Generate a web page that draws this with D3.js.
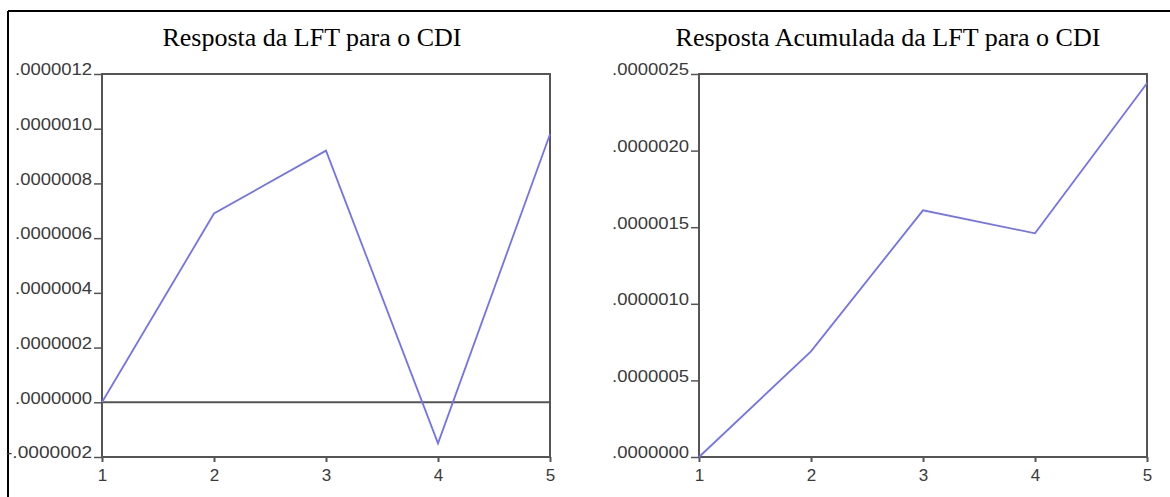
<!DOCTYPE html>
<html>
<head>
<meta charset="utf-8">
<script src="https://cdn.jsdelivr.net/npm/d3@7"></script>
<style>
  body { margin: 0; background: #fff; }
  svg { display: block; }
</style>
</head>
<body>
<svg id="chart" width="1170" height="497"></svg>
<script>
// periods
var periods = [1, 2, 3, 4, 5];
// response of LFT to CDI
var resposta = [0.0, 0.00000069, 0.00000092, -0.00000015, 0.00000098];
// accumulated response
var acumulada = [0.0, 0.00000069, 0.00000161, 0.00000146, 0.00000244];
// y ticks
var ticksLeft = [-0.0000002, 0.0, 0.0000002, 0.0000004, 0.0000006, 0.0000008, 0.0000010, 0.0000012];
var ticksRight = [0.0, 0.0000005, 0.0000010, 0.0000015, 0.0000020, 0.0000025];

var svg = d3.select("#chart");
var axisColor = "#555";
var lineColor = "#7272f4";

// outer frame (only top and left visible)
svg.append("line").attr("x1", 8).attr("x2", 1170).attr("y1", 11).attr("y2", 11)
    .attr("stroke", "#000").attr("stroke-width", 2);
svg.append("line").attr("x1", 8).attr("x2", 8).attr("y1", 11).attr("y2", 497)
    .attr("stroke", "#000").attr("stroke-width", 2);

function fmt(v) {
    var s = Math.abs(v).toFixed(7).replace(/^0/, "");
    return (v < -1e-12 ? "-" : "") + s;
}

function panel(opts) {
    var x = d3.scaleLinear().domain([1, 5]).range([opts.left, opts.right]);
    var y = d3.scaleLinear().domain(opts.domain).range([opts.bottom, opts.top]);
    var g = svg.append("g");

    // title
    g.append("text")
        .attr("x", opts.titleX).attr("y", 46)
        .attr("text-anchor", "middle")
        .style("font-family", "'Liberation Serif', 'Times New Roman', serif")
        .style("font-size", "25px")
        .attr("fill", "#000")
        .attr("textLength", opts.titleW)
        .attr("lengthAdjust", "spacingAndGlyphs")
        .text(opts.title);

    // zero line
    if (opts.zero) {
        g.append("line")
            .attr("x1", opts.left).attr("x2", opts.right)
            .attr("y1", y(0)).attr("y2", y(0))
            .attr("stroke", axisColor).attr("stroke-width", 2);
    }

    // frame box
    g.append("rect")
        .attr("x", opts.left).attr("y", opts.top)
        .attr("width", opts.right - opts.left).attr("height", opts.bottom - opts.top)
        .attr("fill", "none").attr("stroke", axisColor).attr("stroke-width", 2);

    // y axis
    var yAxis = d3.axisLeft(y).tickValues(opts.ticks).tickSize(8).tickFormat(fmt);
    var ya = g.append("g").attr("transform", "translate(" + opts.left + ",0)").call(yAxis);
    ya.select(".domain").remove();
    ya.selectAll(".tick line").attr("stroke", axisColor).attr("stroke-width", 1.5);
    ya.selectAll(".tick text")
        .attr("x", -10).attr("dy", "0.05em")
        .attr("fill", "#3a3a3a")
        .style("font-family", "'Liberation Sans', Arial, sans-serif")
        .style("font-size", "16px")
        .attr("textLength", function (d) { return d < 0 ? 86 : 77; })
        .attr("lengthAdjust", "spacingAndGlyphs");

    // x axis
    var xAxis = d3.axisBottom(x).tickValues(periods).tickSize(5).tickFormat(d3.format("d"));
    var xa = g.append("g").attr("transform", "translate(0," + opts.bottom + ")").call(xAxis);
    xa.select(".domain").remove();
    xa.selectAll(".tick line").attr("stroke", axisColor).attr("stroke-width", 2);
    xa.selectAll(".tick text")
        .attr("y", 12)
        .attr("fill", "#3a3a3a")
        .style("font-family", "'Liberation Sans', Arial, sans-serif")
        .style("font-size", "17px");

    // series
    var line = d3.line()
        .x(function (d, i) { return x(periods[i]); })
        .y(function (d) { return y(d); });
    g.append("path")
        .datum(opts.values)
        .attr("d", line)
        .attr("fill", "none")
        .attr("stroke", lineColor)
        .attr("stroke-width", 1.8);
}

panel({
    title: "Resposta da LFT para o CDI", titleX: 312, titleW: 299,
    left: 102, right: 550, top: 74, bottom: 457,
    domain: [-0.0000002, 0.0000012], ticks: ticksLeft, values: resposta, zero: true
});
panel({
    title: "Resposta Acumulada da LFT para o CDI", titleX: 888, titleW: 425,
    left: 699, right: 1147, top: 74, bottom: 457,
    domain: [0, 0.0000025], ticks: ticksRight, values: acumulada, zero: false
});
</script>
</body>
</html>
